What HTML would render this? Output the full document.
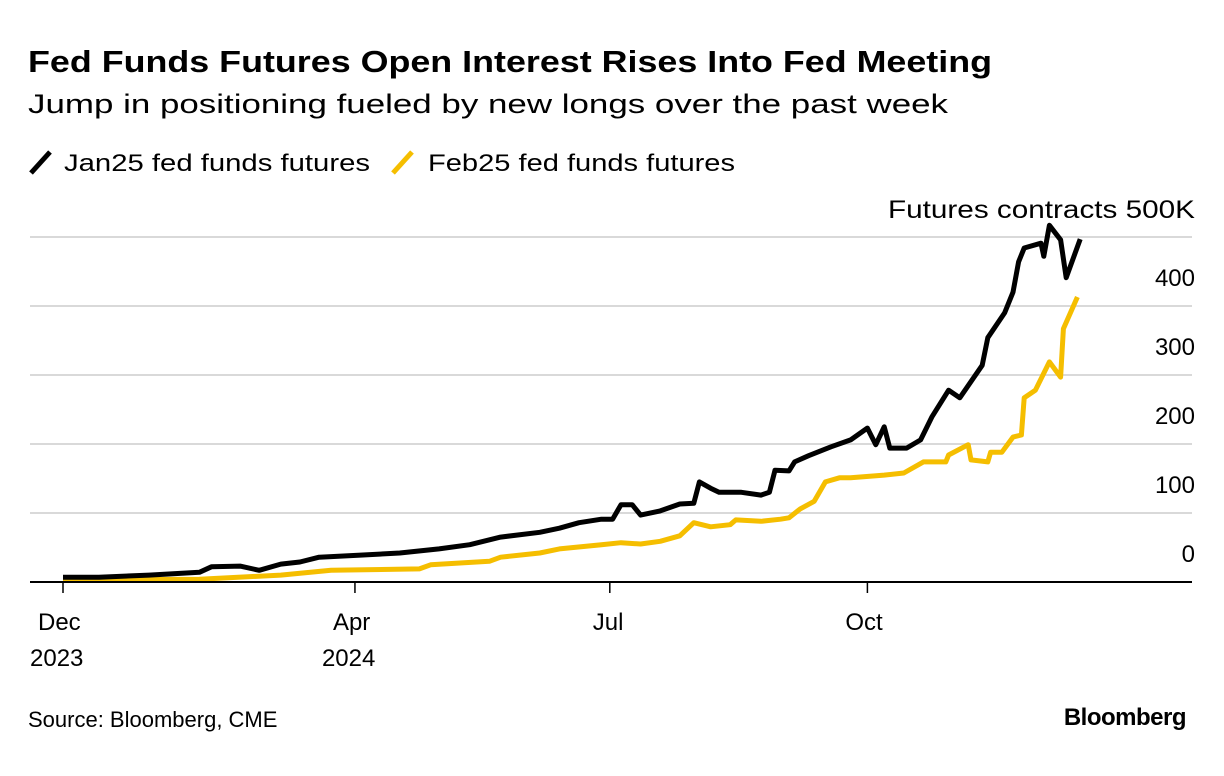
<!DOCTYPE html>
<html><head><meta charset="utf-8"><style>
body{margin:0;background:#fff;}
svg{display:block;font-family:"Liberation Sans",Arial,sans-serif;}
</style></head><body>
<svg id="chart" width="1224" height="776" viewBox="0 0 1224 776">
<text x="28" y="72" font-size="31" font-weight="bold" fill="#000" textLength="964" lengthAdjust="spacingAndGlyphs">Fed Funds Futures Open Interest Rises Into Fed Meeting</text>
<text x="28" y="113" font-size="27" fill="#000" textLength="920" lengthAdjust="spacingAndGlyphs">Jump in positioning fueled by new longs over the past week</text>
<g>
<g>
<line x1="31" y1="173" x2="50" y2="152" stroke="#000" stroke-width="5" stroke-linecap="butt"/>
<text x="64" y="171" font-size="24" fill="#000" textLength="306" lengthAdjust="spacingAndGlyphs">Jan25 fed funds futures</text>
</g>
<g>
<line x1="393" y1="173" x2="412" y2="152" stroke="#F5BE00" stroke-width="5"/>
<text x="428" y="171" font-size="24" fill="#000" textLength="307" lengthAdjust="spacingAndGlyphs">Feb25 fed funds futures</text>
</g>
</g>
<text x="888" y="218" font-size="25" fill="#000" textLength="307" lengthAdjust="spacingAndGlyphs">Futures contracts 500K</text>
<g id="grid"></g>
<g id="series"></g>
<g id="xaxis"></g>
<text x="28" y="727" font-size="22" fill="#000">Source: Bloomberg, CME</text>
<text x="1186" y="725" font-size="24" font-weight="bold" fill="#000" text-anchor="end" letter-spacing="-0.5">Bloomberg</text>
</svg>
<script>
// day offsets from 2023-12-01
const blackDays = [0,15,36,57,62,74,82,91,99,107,124,138,152,163,174,188,195,202,210,214,217,221,224,231,238,243,245,249,252,260,267,270,272,277,279,284,292,299,305,308,311,313,319,324,328,334,338,346,348,354,357,359,361,367,368,370,374,376,381];
const blackVals = [7,7,10,14,22,23,17,26,29,36,39,42,48,54,65,72,78,86,91,91,112,112,97,103,113,114,145,136,130,130,126,130,162,161,174,183,196,206,223,199,225,194,194,206,239,278,267,314,354,390,420,464,484,491,472,517,496,441,497];
const goldDays = [0,57,91,112,145,149,170,174,188,195,210,217,224,231,238,243,249,256,258,267,274,277,281,286,290,295,299,311,318,325,333,334,341,342,348,349,353,357,360,361,365,370,374,375,380];
const goldVals = [3,4,10,17,19,25,30,36,42,48,54,57,55,59,67,86,80,83,90,88,91,93,106,117,145,151,151,155,158,174,174,184,199,177,174,188,188,210,213,267,278,319,297,367,413];
const yTicks = [0,100,200,300,400];
const xTickDays = [0,122,213,305];
const xTickLine1 = ["Dec","Apr","Jul","Oct"];
const xTickLine2 = ["2023","2024","",""];

const NS="http://www.w3.org/2000/svg";
function y(v){return 582 - v*0.69;}
function x(d){return d<=122 ? 63 + d*2.393 : 355 + (d-122)*2.8;}
function mk(tag,attrs,parent){const e=document.createElementNS(NS,tag);for(const k in attrs)e.setAttribute(k,attrs[k]);parent.appendChild(e);return e;}
const grid=document.getElementById('grid');
yTicks.concat([500]).forEach(v=>{
  if(v===0)return;
  const l=mk('line',{x1:30,x2:1192,y1:y(v),y2:y(v),stroke:'#d9d9d9','stroke-width':2},grid);
  
  
});
yTicks.forEach(v=>{
  const t=mk('text',{x:1195,y:y(v)-20,'font-size':24,'text-anchor':'end',fill:'#000'},grid);
  t.textContent=String(v);
  
  
});
const ser=document.getElementById('series');
function line(days,vals,color,name){
  const p=mk('polyline',{points:days.map((d,i)=>x(d).toFixed(1)+','+y(vals[i]).toFixed(1)).join(' '),fill:'none',stroke:color,'stroke-width':5,'stroke-linejoin':'round'},ser);
  
  
}
line(goldDays,goldVals,'#F5BE00','feb25-line');
line(blackDays,blackVals,'#000','jan25-line');
const xa=document.getElementById('xaxis');
const ax=mk('line',{x1:30,x2:1192,y1:582,y2:582,stroke:'#000','stroke-width':2},xa);


const labelOffsets=[-25,-22,-17,-22];
xTickDays.forEach((d,i)=>{
  const tk=mk('line',{x1:x(d),x2:x(d),y1:582,y2:593,stroke:'#000','stroke-width':1.5},xa);
  
  
  const t=mk('text',{x:x(d)+labelOffsets[i],y:630,'font-size':24,fill:'#000'},xa);
  t.textContent=xTickLine1[i];
  
  
  if(xTickLine2[i]){
    const t2=mk('text',{x:x(d)-33,y:666,'font-size':24,fill:'#000'},xa);
    t2.textContent=xTickLine2[i];
    
    
  }
});
</script>
</body></html>
